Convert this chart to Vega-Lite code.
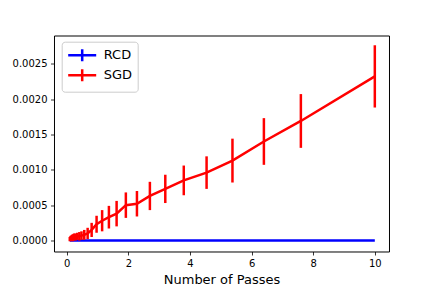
{
  "$schema": "https://vega.github.io/schema/vega-lite/v6.json",
  "width": 335,
  "height": 216,
  "autosize": {"type": "none"},
  "padding": {"left": 54, "top": 35.5, "right": 42.7, "bottom": 36.5},
  "background": "white",
  "config": {
    "font": "DejaVu Sans",
    "view": {"stroke": "black", "strokeWidth": 1},
    "axis": {
      "grid": false,
      "domain": false,
      "ticks": true,
      "tickColor": "black",
      "tickSize": 3.5,
      "tickWidth": 0.8,
      "labelColor": "black",
      "labelFont": "DejaVu Sans",
      "labelFontSize": 10,
      "labelPadding": 3.5,
      "titleFont": "DejaVu Sans",
      "titleFontSize": 13,
      "titleFontWeight": "normal",
      "titleColor": "black"
    },
    "legend": {
      "orient": "none",
      "legendX": 7.7,
      "legendY": 6.2,
      "strokeColor": "#cccccc",
      "fillColor": "white",
      "padding": 5,
      "cornerRadius": 3,
      "symbolType": "M-2,0H2M0,-0.85V0.85",
      "symbolSize": 196,
      "symbolStrokeWidth": 2.5,
      "symbolOffset": 7,
      "labelOffset": 13,
      "labelFont": "DejaVu Sans",
      "labelFontSize": 13,
      "labelColor": "black",
      "rowPadding": -10
    }
  },
  "data": {
    "values": [
      {"method": "RCD", "x": 0.1, "y": 0.0, "lo": 0.0, "hi": 0.0},
      {"method": "RCD", "x": 0.14, "y": 0.0, "lo": 0.0, "hi": 0.0},
      {"method": "RCD", "x": 0.2, "y": 0.0, "lo": 0.0, "hi": 0.0},
      {"method": "RCD", "x": 0.29, "y": 0.0, "lo": 0.0, "hi": 0.0},
      {"method": "RCD", "x": 0.41, "y": 0.0, "lo": 0.0, "hi": 0.0},
      {"method": "RCD", "x": 0.57, "y": 0.0, "lo": 0.0, "hi": 0.0},
      {"method": "RCD", "x": 0.81, "y": 0.0, "lo": 0.0, "hi": 0.0},
      {"method": "RCD", "x": 1.15, "y": 0.0, "lo": 0.0, "hi": 0.0},
      {"method": "RCD", "x": 1.62, "y": 0.0, "lo": 0.0, "hi": 0.0},
      {"method": "RCD", "x": 2.28, "y": 0.0, "lo": 0.0, "hi": 0.0},
      {"method": "RCD", "x": 3.2, "y": 0.0, "lo": 0.0, "hi": 0.0},
      {"method": "RCD", "x": 4.54, "y": 0.0, "lo": 0.0, "hi": 0.0},
      {"method": "RCD", "x": 6.4, "y": 0.0, "lo": 0.0, "hi": 0.0},
      {"method": "RCD", "x": 10.0, "y": 0.0, "lo": 0.0, "hi": 0.0},
      {"method": "SGD", "x": 0.1, "y": 0.00002, "lo": -0.00001, "hi": 0.00005},
      {"method": "SGD", "x": 0.12, "y": 0.00003, "lo": 0.0, "hi": 0.00006},
      {"method": "SGD", "x": 0.14, "y": 0.00003, "lo": -0.00001, "hi": 0.00007},
      {"method": "SGD", "x": 0.17, "y": 0.00004, "lo": 0.0, "hi": 0.00008},
      {"method": "SGD", "x": 0.2, "y": 0.00004, "lo": -0.00001, "hi": 0.00009},
      {"method": "SGD", "x": 0.24, "y": 0.00005, "lo": 0.0, "hi": 0.0001},
      {"method": "SGD", "x": 0.29, "y": 0.00005, "lo": 0.0, "hi": 0.0001},
      {"method": "SGD", "x": 0.34, "y": 0.00006, "lo": 0.00001, "hi": 0.00011},
      {"method": "SGD", "x": 0.41, "y": 0.00006, "lo": 0.0, "hi": 0.00012},
      {"method": "SGD", "x": 0.48, "y": 0.00007, "lo": 0.00001, "hi": 0.00013},
      {"method": "SGD", "x": 0.57, "y": 0.00008, "lo": 0.00001, "hi": 0.00015},
      {"method": "SGD", "x": 0.68, "y": 0.0001, "lo": 0.00002, "hi": 0.00018},
      {"method": "SGD", "x": 0.81, "y": 0.00015, "lo": 0.00005, "hi": 0.00025},
      {"method": "SGD", "x": 0.97, "y": 0.00023, "lo": 0.00011, "hi": 0.00035},
      {"method": "SGD", "x": 1.15, "y": 0.00028, "lo": 0.00013, "hi": 0.00043},
      {"method": "SGD", "x": 1.37, "y": 0.00033, "lo": 0.00017, "hi": 0.00049},
      {"method": "SGD", "x": 1.62, "y": 0.00038, "lo": 0.0002, "hi": 0.00056},
      {"method": "SGD", "x": 1.92, "y": 0.0005, "lo": 0.00032, "hi": 0.00068},
      {"method": "SGD", "x": 2.28, "y": 0.00052, "lo": 0.00034, "hi": 0.0007},
      {"method": "SGD", "x": 2.7, "y": 0.00063, "lo": 0.00043, "hi": 0.00083},
      {"method": "SGD", "x": 3.2, "y": 0.00073, "lo": 0.00053, "hi": 0.00093},
      {"method": "SGD", "x": 3.8, "y": 0.00085, "lo": 0.00064, "hi": 0.00106},
      {"method": "SGD", "x": 4.54, "y": 0.00096, "lo": 0.00073, "hi": 0.00119},
      {"method": "SGD", "x": 5.38, "y": 0.00113, "lo": 0.00082, "hi": 0.00144},
      {"method": "SGD", "x": 6.4, "y": 0.0014, "lo": 0.00107, "hi": 0.00173},
      {"method": "SGD", "x": 7.6, "y": 0.00169, "lo": 0.00131, "hi": 0.00207},
      {"method": "SGD", "x": 10.0, "y": 0.00232, "lo": 0.00188, "hi": 0.00276}
    ]
  },
  "encoding": {
    "x": {
      "field": "x",
      "type": "quantitative",
      "scale": {"domain": [-0.412, 10.46], "nice": false, "zero": false},
      "axis": {"values": [0, 2, 4, 6, 8, 10], "title": "Number of Passes", "titlePadding": 5}
    },
    "color": {
      "field": "method",
      "type": "nominal",
      "scale": {"domain": ["RCD", "SGD"], "range": ["#0000ff", "#ff0000"]},
      "legend": {"title": null}
    }
  },
  "layer": [
    {
      "mark": {"type": "line", "strokeWidth": 2.5},
      "encoding": {
        "y": {
          "field": "y",
          "type": "quantitative",
          "scale": {"domain": [-0.000155, 0.002898], "nice": false, "zero": false},
          "axis": {"values": [0, 0.0005, 0.001, 0.0015, 0.002, 0.0025], "format": ".4f", "title": null}
        }
      }
    },
    {
      "mark": {"type": "rule", "strokeWidth": 2.5},
      "encoding": {
        "y": {"field": "lo", "type": "quantitative"},
        "y2": {"field": "hi"}
      }
    }
  ]
}
